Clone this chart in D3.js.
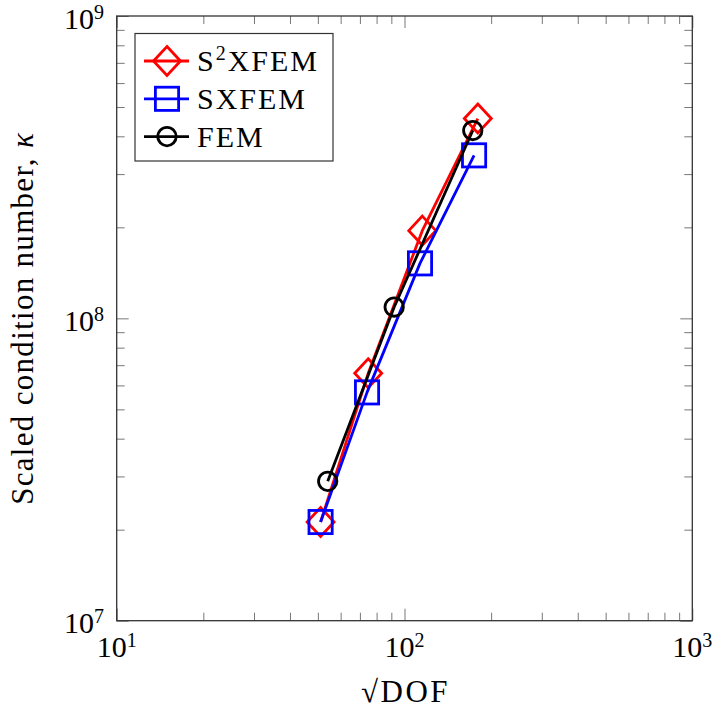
<!DOCTYPE html>
<html>
  <head>
    <meta charset="utf-8">
    <title>Scaled condition number</title>
    <script src="https://d3js.org/d3.v7.min.js"></script>
    <style>
      body { margin: 0; background: #fff; }
      svg text { font-family: "Liberation Serif", "Times New Roman", Times, "DejaVu Serif", serif; fill: #000; }
    </style>
  </head>
  <body>
    <div id="chart"></div>

    <script>
      // Data (x = sqrt(DOF), y = scaled condition number)
      const seriesNames = ['S2XFEM', 'SXFEM', 'FEM'];
      const s2xfemX = [51.1, 74.8, 115.3, 179.8];
      const s2xfemY = [2.12e7, 6.58e7, 1.95e8, 4.58e8];
      const sxfemX = [51.1, 74.1, 113.2, 174.5];
      const sxfemY = [2.12e7, 5.69e7, 1.52e8, 3.46e8];
      const femX = [54.1, 92.1, 172.7];
      const femY = [2.89e7, 1.09e8, 4.18e8];
      const xTickExps = [1, 2, 3];
      const yTickExps = [7, 8, 9];

      const W = 712, H = 712;
      const plotL = 116.7, plotR = 692.3, plotT = 16, plotB = 620.7;

      const x = d3.scaleLog().domain([10, 1000]).range([plotL, plotR]);
      const y = d3.scaleLog().domain([1e7, 1e9]).range([plotB, plotT]);

      const svg = d3.select('#chart')
        .append('svg')
        .attr('width', W)
        .attr('height', H);

      // minor ticks: 2..9 in each decade
      const minorX = [], minorY = [];
      [10, 100].forEach(d => { for (let k = 2; k <= 9; k++) minorX.push(d * k); });
      [1e7, 1e8].forEach(d => { for (let k = 2; k <= 9; k++) minorY.push(d * k); });
      const majorX = xTickExps.map(e => Math.pow(10, e));
      const majorY = yTickExps.map(e => Math.pow(10, e));

      function tickAxis(axisFn, scale, values, size, tx, ty) {
        const g = svg.append('g')
          .attr('transform', `translate(${tx},${ty})`)
          .call(axisFn(scale).tickValues(values).tickSize(size).tickFormat(''));
        g.select('.domain').remove();
        g.selectAll('line').attr('stroke', '#555').attr('stroke-width', 0.8);
      }

      // inward ticks on all four sides
      tickAxis(d3.axisBottom, x, majorX, -12, 0, plotB);
      tickAxis(d3.axisBottom, x, minorX, -8, 0, plotB);
      tickAxis(d3.axisTop, x, majorX, -12, 0, plotT);
      tickAxis(d3.axisTop, x, minorX, -8, 0, plotT);
      tickAxis(d3.axisLeft, y, majorY, -12, plotL, 0);
      tickAxis(d3.axisLeft, y, minorY, -8, plotL, 0);
      tickAxis(d3.axisRight, y, majorY, -12, plotR, 0);
      tickAxis(d3.axisRight, y, minorY, -8, plotR, 0);

      // frame
      svg.append('rect')
        .attr('x', plotL).attr('y', plotT)
        .attr('width', plotR - plotL).attr('height', plotB - plotT)
        .attr('fill', 'none').attr('stroke', '#333').attr('stroke-width', 1.3);

      // tick labels 10^n
      function powLabel(sel) {
        sel.append('tspan').text('10');
        sel.append('tspan').attr('dy', -10).attr('font-size', 20).text(d => d);
      }
      svg.selectAll('.xlab')
        .data(xTickExps)
        .enter()
        .append('text')
        .attr('class', 'xlab')
        .attr('x', d => x(Math.pow(10, d)))
        .attr('y', 657)
        .attr('font-size', 30)
        .attr('text-anchor', 'middle')
        .call(powLabel);
      svg.selectAll('.ylab')
        .data(yTickExps)
        .enter()
        .append('text')
        .attr('class', 'ylab')
        .attr('x', 104)
        .attr('y', d => y(Math.pow(10, d)) + 12.5)
        .attr('font-size', 30)
        .attr('text-anchor', 'end')
        .call(powLabel);

      // axis titles
      svg.append('text')
        .attr('x', (plotL + plotR) / 2 + 1)
        .attr('y', 702)
        .attr('font-size', 31)
        .attr('letter-spacing', 2.5)
        .attr('text-anchor', 'middle')
        .text('√DOF');
      const yt = svg.append('text')
        .attr('transform', `translate(33,${(plotT + plotB) / 2}) rotate(-90)`)
        .attr('font-size', 31)
        .attr('letter-spacing', 1.3)
        .attr('text-anchor', 'middle');
      yt.append('tspan').text('Scaled condition number, ');
      yt.append('tspan').attr('font-style', 'italic').text('κ');

      // series
      const series = [
        { name: seriesNames[0], xs: s2xfemX, ys: s2xfemY, color: '#ff0000', marker: 'diamond' },
        { name: seriesNames[1], xs: sxfemX, ys: sxfemY, color: '#0000ff', marker: 'square' },
        { name: seriesNames[2], xs: femX, ys: femY, color: '#000000', marker: 'circle' },
      ];

      function drawMarker(g, type, cx, cy, color) {
        if (type === 'diamond') {
          g.append('path')
            .attr('d', `M${cx},${cy - 14.5}L${cx + 13.5},${cy}L${cx},${cy + 14.5}L${cx - 13.5},${cy}Z`)
            .attr('fill', 'none').attr('stroke', color).attr('stroke-width', 2.8);
        } else if (type === 'square') {
          g.append('rect')
            .attr('x', cx - 11.6).attr('y', cy - 11.6)
            .attr('width', 23.2).attr('height', 23.2)
            .attr('fill', 'none').attr('stroke', color).attr('stroke-width', 2.8);
        } else {
          g.append('circle')
            .attr('cx', cx).attr('cy', cy).attr('r', 9.2)
            .attr('fill', 'none').attr('stroke', color).attr('stroke-width', 2.8);
        }
      }

      const line = d3.line().x(d => x(d[0])).y(d => y(d[1]));
      series.forEach(s => {
        const pts = s.xs.map((v, i) => [v, s.ys[i]]);
        const g = svg.append('g');
        g.append('path')
          .datum(pts)
          .attr('d', line)
          .attr('fill', 'none')
          .attr('stroke', s.color)
          .attr('stroke-width', 2.8)
          .attr('stroke-linejoin', 'round');
        pts.forEach(p => drawMarker(g, s.marker, x(p[0]), y(p[1]), s.color));
      });

      // legend
      const legend = svg.append('g');
      legend.append('rect')
        .attr('x', 135).attr('y', 33.5)
        .attr('width', 198).attr('height', 127.5)
        .attr('fill', '#fff').attr('stroke', '#333').attr('stroke-width', 1.2);
      series.forEach((s, i) => {
        const cy = 61 + i * 37.8;
        legend.append('line')
          .attr('x1', 144).attr('x2', 189)
          .attr('y1', cy).attr('y2', cy)
          .attr('stroke', s.color).attr('stroke-width', 2.8);
        drawMarker(legend, s.marker, 167, cy, s.color);
        const t = legend.append('text')
          .attr('x', 197)
          .attr('y', cy + 10)
          .attr('font-size', 30)
          .attr('letter-spacing', 2);
        if (s.name === 'S2XFEM') {
          t.append('tspan').text('S');
          t.append('tspan').attr('dy', -11).attr('font-size', 20).text('2');
          t.append('tspan').attr('dy', 11).text('XFEM');
        } else {
          t.text(s.name);
        }
      });
    </script>
  </body>
</html>
